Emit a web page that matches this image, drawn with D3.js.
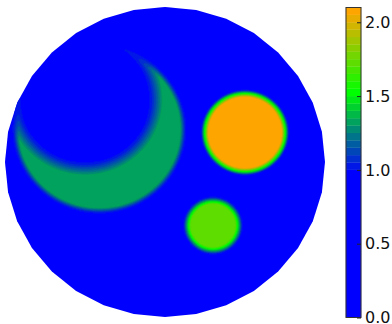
<!DOCTYPE html>
<html>
<head>
<meta charset="utf-8">
<script src="https://cdn.jsdelivr.net/npm/d3@7"></script>
<style>
  html, body { margin: 0; padding: 0; background: #ffffff; }
  svg { display: block; }
</style>
</head>
<body>
<svg id="chart" width="392" height="324"></svg>
<script>
// Filled contour levels: one wide band below 1.0, then steps of 0.05 up to 2.1
const levels = [0].concat(d3.range(20, 43).map(i => i / 20));
const tickValues = [0, 0.5, 1.0, 1.5, 2.0];
const tickLabels = ["0.0", "0.5", "1.0", "1.5", "2.0"];

// Background conductivity of the disc
const backgroundValue = [1.0];

// Round inclusions: centre x, centre y, radius, value, edge width (domain units)
const blobX = [0.5, 0.3];
const blobY = [0.19, -0.41];
const blobR = [0.25, 0.16];
const blobValue = [2.1, 1.75];
const blobEdge = [0.045, 0.045];

// Crescent inclusion: an outer disc with an offset inner disc removed
const crescentOuter = [-0.41, 0.21, 0.52];
const crescentInner = [-0.5, 0.4, 0.45];
const crescentValue = [1.35];
const crescentEdge = [0.035, 0.085];

// The mesh boundary is a regular polygon
const boundarySides = 32;

const svg = d3.select("#chart");

const x = d3.scaleLinear().domain([-1, 1]).range([5, 325]);
const y = d3.scaleLinear().domain([-1, 1]).range([317, 7]);

const cmap = d3.scaleLinear()
  .domain([0, 0.5, 1])
  .range(["#0000ff", "#00ff00", "#ffa500"])
  .interpolate(d3.interpolateRgb);
const nBands = levels.length - 1;
const bandColor = i => cmap(i / (nBands - 1));

function ramp(d, r, w) {
  return Math.max(0, Math.min(1, (r + w / 2 - d) / w));
}

function field(px, py) {
  let v = backgroundValue[0];
  const dOut = Math.hypot(px - crescentOuter[0], py - crescentOuter[1]);
  const dIn = Math.hypot(px - crescentInner[0], py - crescentInner[1]);
  const mc = ramp(dOut, crescentOuter[2], crescentEdge[0]) *
             (1 - ramp(dIn, crescentInner[2], crescentEdge[1]));
  v += (crescentValue[0] - v) * mc;
  blobX.forEach((bx, i) => {
    const m = ramp(Math.hypot(px - bx, py - blobY[i]), blobR[i], blobEdge[i]);
    v += (blobValue[i] - v) * m;
  });
  return v;
}

// Sample the field on a one-pixel grid covering the disc
const [x0, x1] = x.range();
const [y1, y0] = y.range();
const nx = Math.ceil(x1 - x0) + 1;
const ny = Math.ceil(y1 - y0) + 1;
const values = new Float64Array(nx * ny);
for (let j = 0; j < ny; j++) {
  const dy = y.invert(y0 + j + 0.5);
  for (let i = 0; i < nx; i++) {
    values[j * nx + i] = field(x.invert(x0 + i + 0.5), dy);
  }
}

// Bands are half-open from below, so a value equal to a level stays in the lower band
const thresholds = levels.slice(0, nBands).map((l, i) => i === 0 ? l - 1 : l + 1e-9);
const bands = d3.contours().size([nx, ny]).thresholds(thresholds)(values);

const boundary = d3.range(boundarySides).map(k => {
  const a = 2 * Math.PI * k / boundarySides;
  return [x(Math.cos(a)), y(Math.sin(a))];
});

svg.append("clipPath").attr("id", "disc")
  .append("path")
  .attr("d", d3.line()(boundary) + "Z");

svg.append("g")
  .attr("clip-path", "url(#disc)")
  .append("g")
  .attr("transform", `translate(${x0},${y0})`)
  .selectAll("path")
  .data(bands)
  .join("path")
  .attr("d", d3.geoPath())
  .attr("fill", (d, i) => bandColor(i))
  .attr("stroke", (d, i) => bandColor(i))
  .attr("stroke-width", 0.3);

// Colorbar
const cbLeft = 346, cbWidth = 15;
const cy = d3.scaleLinear().domain([0, levels[levels.length - 1]]).range([317.5, 7.5]);
const cb = svg.append("g");
cb.selectAll("rect.band")
  .data(d3.range(nBands))
  .join("rect")
  .attr("class", "band")
  .attr("x", cbLeft)
  .attr("width", cbWidth)
  .attr("y", i => cy(levels[i + 1]))
  .attr("height", i => cy(levels[i]) - cy(levels[i + 1]))
  .attr("fill", i => bandColor(i))
  .attr("stroke", i => bandColor(i))
  .attr("stroke-width", 0.3);
cb.append("rect")
  .attr("x", cbLeft)
  .attr("y", cy.range()[1])
  .attr("width", cbWidth)
  .attr("height", cy.range()[0] - cy.range()[1])
  .attr("fill", "none")
  .attr("stroke", "#333333")
  .attr("stroke-width", 1);

const axis = d3.axisRight(cy)
  .tickValues(tickValues)
  .tickFormat((d, i) => tickLabels[i])
  .tickSize(0)
  .tickPadding(4);
const ax = svg.append("g")
  .attr("transform", `translate(${cbLeft + cbWidth},0)`)
  .call(axis);
ax.select(".domain").remove();
ax.selectAll(".tick line")
  .attr("x1", -4).attr("x2", 0)
  .attr("stroke", "#222222");
ax.selectAll(".tick text")
  .attr("font-family", "DejaVu Sans")
  .attr("font-size", 16)
  .attr("fill", "#111111");
</script>
</body>
</html>
